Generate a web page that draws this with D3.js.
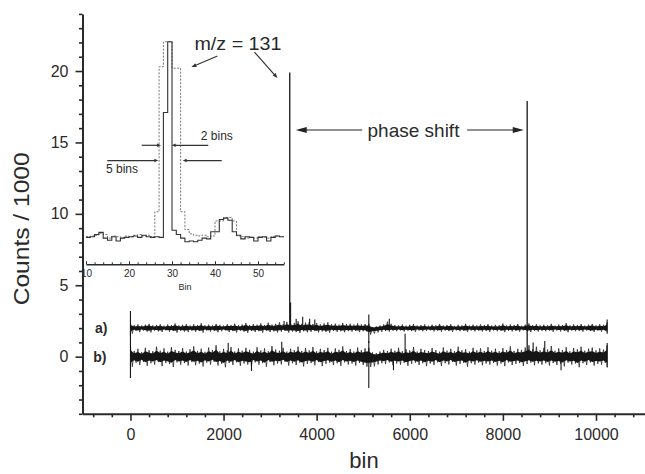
<!DOCTYPE html>
<html lang="en">
<head>
<meta charset="UTF-8">
<title>Phase shift of m/z 131</title>
<script src="https://d3js.org/d3.v7.min.js"></script>
<style>
  body { margin: 0; background: #fff; }
  text { font-family: Arial, "Liberation Sans", sans-serif; fill: #2a2a2a; }
  .axis path, .axis line { stroke: #2a2a2a; }
</style>
</head>
<body>
<div id="chart"></div>
<script>
// ---- main axes
const xTicks = [0, 2000, 4000, 6000, 8000, 10000];
const yTicks = [0, 5, 10, 15, 20];

// ---- noisy traces: offsets of a) and b), and the band read as a zig-zag
// (highs at bin i*80, lows at bin i*80+40)
const traceBase = { a: 2.0, b: 0.0 };
const binStep = 80;
const aHi = [2.35,2.20,2.26,2.18,2.24,2.30,2.19,2.22,2.27,2.17,2.25,2.21,2.32,2.19,2.23,2.28,
             2.18,2.26,2.22,2.34,2.20,2.24,2.19,2.29,2.23,2.18,2.27,2.22,2.31,2.20,2.25,2.36,
             2.21,2.28,2.24,2.33,2.22,2.38,2.25,2.30,2.40,2.27,2.44,2.32,2.36,2.48,2.30,2.38,
             2.42,2.29,2.35,2.26,2.33,2.40,2.27,2.31,2.24,2.36,2.28,2.30,2.25,2.33,2.26,2.29,
             2.30,2.08,2.12,2.18,2.26,2.45,2.30,2.22,2.19,2.25,2.17,2.23,2.28,2.18,2.21,2.26,
             2.17,2.24,2.20,2.29,2.18,2.22,2.27,2.16,2.23,2.20,2.30,2.18,2.24,2.19,2.26,2.21,
             2.28,2.18,2.23,2.20,2.32,2.19,2.25,2.22,2.29,2.17,2.24,2.33,2.21,2.27,2.19,2.24,
             2.20,2.30,2.18,2.25,2.22,2.34,2.19,2.26,2.21,2.28,2.18,2.24,2.29,2.20,2.27,2.23,2.40];
const aLo = [1.62,1.80,1.72,1.83,1.76,1.70,1.82,1.77,1.73,1.84,1.75,1.79,1.68,1.81,1.76,1.72,
             1.82,1.74,1.79,1.69,1.83,1.76,1.80,1.71,1.78,1.84,1.73,1.79,1.70,1.81,1.75,1.67,
             1.80,1.73,1.78,1.68,1.82,1.72,1.77,1.70,1.75,1.80,1.69,1.76,1.72,1.66,1.78,1.71,
             1.74,1.79,1.70,1.77,1.73,1.68,1.80,1.74,1.78,1.71,1.79,1.75,1.80,1.72,1.78,1.76,
             1.55,1.62,1.70,1.74,1.80,1.76,1.82,1.78,1.84,1.76,1.82,1.79,1.74,1.83,1.78,1.81,
             1.84,1.77,1.82,1.75,1.83,1.79,1.74,1.84,1.78,1.81,1.73,1.83,1.77,1.82,1.76,1.80,
             1.74,1.83,1.78,1.81,1.72,1.82,1.77,1.80,1.75,1.84,1.79,1.72,1.82,1.76,1.81,1.78,
             1.82,1.74,1.83,1.77,1.80,1.71,1.82,1.78,1.81,1.75,1.83,1.79,1.73,1.82,1.76,1.80,1.70];
const bHi = [0.75,0.40,0.55,0.32,0.62,0.45,0.38,0.70,0.42,0.58,0.35,0.66,0.48,0.40,0.60,0.36,
             0.52,0.72,0.40,0.56,0.34,0.64,0.46,0.80,0.38,0.55,0.44,0.68,0.36,0.58,0.42,0.62,
             0.48,0.35,0.66,0.44,0.58,0.38,0.74,0.50,0.42,0.62,0.36,0.56,0.46,0.70,0.40,0.60,
             0.44,0.68,0.38,0.55,0.46,0.62,0.35,0.58,0.48,0.72,0.40,0.54,0.36,0.64,0.45,0.58,
             0.62,0.30,0.25,0.36,0.48,0.40,0.56,0.42,0.62,0.38,0.52,0.44,0.68,0.36,0.55,0.47,
             0.40,0.60,0.46,0.35,0.64,0.42,0.55,0.38,0.70,0.45,0.52,0.36,0.62,0.44,0.58,0.40,
             0.66,0.42,0.56,0.38,0.60,0.46,0.72,0.40,0.55,0.48,0.64,0.80,0.52,0.70,0.45,0.62,
             0.50,0.75,0.42,0.58,0.46,0.66,0.38,0.60,0.52,0.70,0.42,0.56,0.64,0.44,0.58,0.50,0.80];
const bLo = [-0.70,-0.42,-0.58,-0.36,-0.64,-0.46,-0.55,-0.38,-0.66,-0.44,-0.52,-0.72,-0.40,-0.56,-0.45,-0.62,
             -0.38,-0.60,-0.48,-0.68,-0.42,-0.55,-0.36,-0.62,-0.50,-0.74,-0.44,-0.58,-0.40,-0.64,-0.48,-0.55,
             -0.66,-0.40,-0.56,-0.45,-0.70,-0.38,-0.60,-0.48,-0.54,-0.36,-0.62,-0.46,-0.58,-0.42,-0.68,-0.50,
             -0.45,-0.60,-0.38,-0.66,-0.50,-0.42,-0.58,-0.46,-0.64,-0.40,-0.55,-0.48,-0.62,-0.44,-0.58,-0.70,
             -0.72,-0.68,-0.55,-0.46,-0.52,-0.40,-0.60,-0.48,-0.56,-0.44,-0.64,-0.50,-0.42,-0.58,-0.46,-0.66,
             -0.48,-0.58,-0.40,-0.65,-0.46,-0.55,-0.38,-0.62,-0.50,-0.44,-0.70,-0.46,-0.56,-0.42,-0.60,-0.48,
             -0.55,-0.44,-0.62,-0.48,-0.66,-0.40,-0.58,-0.50,-0.45,-0.64,-0.52,-0.42,-0.60,-0.48,-0.56,-0.46,
             -0.62,-0.45,-0.58,-0.50,-0.68,-0.42,-0.55,-0.48,-0.74,-0.46,-0.58,-0.40,-0.62,-0.50,-0.56,-0.44,-0.70];

// single-bin spikes: [bin, top, bottom]
const aSpikes = [[0,3.2,1.5],[3300,2.5,2.0],[3422,19.9,1.9],[3440,3.8,1.9],[3560,2.65,1.9],
                 [3700,2.8,1.9],[3850,2.65,1.9],[3960,2.6,1.9],[5120,2.95,0.95],[5560,2.65,1.9],
                 [10240,2.6,1.6]];
const bSpikes = [[0,1.8,-1.5],[2100,0.95,0],[2600,0,-1.0],[3250,1.05,0],[5120,1.1,-2.2],
                 [5650,0,-0.95],[5900,1.6,0],[8522,17.9,-0.3],[8650,1.0,0],[8900,1.1,0],
                 [9250,0,-0.95],[10240,0.95,-0.75]];

// ---- inset: m/z 131 peak, counts per bin (bins 10..55)
const insetBins = d3.range(10, 56);
const insetTicks = [10, 20, 30, 40, 50];
const solidCounts = [8.35,8.40,8.55,8.70,8.30,8.15,8.40,8.10,8.30,8.35,8.40,8.45,8.35,8.50,8.40,8.35,
                     8.40,8.35,17.1,22.05,8.85,8.55,8.30,8.05,8.10,8.05,8.15,8.30,8.25,8.75,8.75,9.60,
                     9.70,9.55,8.75,8.50,8.25,8.40,8.35,8.10,8.35,8.40,8.10,8.35,8.45,8.40];
const dashedCounts = [8.40,8.45,8.50,8.65,8.55,8.30,8.45,8.40,8.35,8.45,8.40,8.50,8.55,8.45,8.50,8.40,
                      10.15,20.3,22.05,22.05,20.2,20.2,10.15,8.90,8.60,8.50,8.45,8.50,8.40,8.45,9.50,9.50,
                      9.75,9.75,9.50,8.45,8.40,8.30,8.35,8.30,8.40,8.35,8.30,8.40,8.45,8.40];

const W = 645, H = 474;
const svg = d3.select("#chart").append("svg")
    .attr("width", W).attr("height", H);

const x = d3.scaleLinear().domain([-1030, 11300]).range([82.5, 656.5]);
const y = d3.scaleLinear().domain([-4, 24]).range([413.8, 13.9]);

// ---- axes
const xMinor = d3.range(-800, 11300, 400).filter(v => v % 2000 !== 0);
const yMinor = d3.range(-4, 25, 1).filter(v => v % 5 !== 0);

const gx = svg.append("g").attr("class", "axis")
    .attr("transform", `translate(0,${y(-4)})`);
gx.call(d3.axisBottom(x).tickValues(xMinor).tickSize(3.5).tickFormat("").tickSizeOuter(0));
gx.call(g => g.select(".domain").remove());
const gx2 = svg.append("g").attr("class", "axis")
    .attr("transform", `translate(0,${y(-4)})`)
    .call(d3.axisBottom(x).tickValues(xTicks).tickFormat(d3.format("d"))
        .tickSize(7).tickPadding(8).tickSizeOuter(0));
gx2.select(".domain").attr("stroke-width", 2);
gx.selectAll("line").attr("stroke-width", 1.6);
gx2.selectAll("line").attr("stroke-width", 1.6);
gx2.selectAll("text").attr("font-size", 16).attr("fill", "#2a2a2a");

const gy = svg.append("g").attr("class", "axis")
    .attr("transform", `translate(${x(-1030)},0)`);
gy.call(d3.axisLeft(y).tickValues(yMinor).tickSize(3.5).tickFormat("").tickSizeOuter(0));
gy.call(g => g.select(".domain").remove());
const gy2 = svg.append("g").attr("class", "axis")
    .attr("transform", `translate(${x(-1030)},0)`)
    .call(d3.axisLeft(y).tickValues(yTicks).tickSize(7).tickPadding(7).tickSizeOuter(0));
gy2.select(".domain").attr("stroke-width", 2);
gy.selectAll("line").attr("stroke-width", 1.6);
gy2.selectAll("line").attr("stroke-width", 1.6);
gy2.selectAll("text").attr("font-size", 16).attr("fill", "#2a2a2a");

svg.append("text")
    .attr("transform", `translate(28.5,${(y(24) + y(-4)) / 2 + 15}) rotate(-90)`)
    .attr("text-anchor", "middle")
    .attr("font-size", 22)
    .attr("textLength", 153).attr("lengthAdjust", "spacingAndGlyphs")
    .text("Counts / 1000");

svg.append("text")
    .attr("x", 364).attr("y", 468)
    .attr("text-anchor", "middle")
    .attr("font-size", 22)
    .text("bin");

// ---- traces
function drawTrace(hi, lo, base, spikes) {
  const rows = hi.map((h, i) => ({ bin: Math.min(i * binStep, 10240), hi: h, lo: lo[i] }));
  // dense core of the band
  svg.append("path")
      .datum(rows)
      .attr("fill", "#161616")
      .attr("d", d3.area().x(d => x(d.bin))
          .y0(d => y(base + (d.lo - base) * 0.6))
          .y1(d => y(base + (d.hi - base) * 0.6)));
  // fuzzy outer edge
  const pts = [];
  rows.forEach(r => {
    pts.push([r.bin, r.hi]);
    pts.push([Math.min(r.bin + binStep / 2, 10240), r.lo]);
  });
  svg.append("path")
      .datum(pts)
      .attr("fill", "none")
      .attr("stroke", "#161616")
      .attr("stroke-width", 0.7)
      .attr("d", d3.line().x(d => x(d[0])).y(d => y(d[1])));
  svg.append("g").selectAll("line")
      .data(spikes)
      .join("line")
      .attr("x1", d => x(d[0])).attr("x2", d => x(d[0]))
      .attr("y1", d => y(d[1])).attr("y2", d => y(d[2]))
      .attr("stroke", "#161616")
      .attr("stroke-width", d => d[1] > 10 ? 1.3 : 1.1);
}
drawTrace(aHi, aLo, traceBase.a, aSpikes);
drawTrace(bHi, bLo, traceBase.b, bSpikes);

svg.append("text").attr("x", x(-760)).attr("y", y(2) + 5)
    .attr("font-size", 14).attr("font-weight", "bold").text("a)");
svg.append("text").attr("x", x(-800)).attr("y", y(0) + 5)
    .attr("font-size", 14).attr("font-weight", "bold").text("b)");

// ---- arrows
function arrow(x1, y1, x2, y2, len, wid, col) {
  const a = Math.atan2(y2 - y1, x2 - x1);
  svg.append("line")
      .attr("x1", x1).attr("y1", y1)
      .attr("x2", x2 - Math.cos(a) * len * 0.8).attr("y2", y2 - Math.sin(a) * len * 0.8)
      .attr("stroke", col).attr("stroke-width", 1.2);
  const bx = x2 - Math.cos(a) * len, by = y2 - Math.sin(a) * len;
  const px = -Math.sin(a) * wid / 2, py = Math.cos(a) * wid / 2;
  svg.append("path")
      .attr("d", `M${x2},${y2}L${bx + px},${by + py}L${bx - px},${by - py}Z`)
      .attr("fill", col);
}

// phase shift between the two peaks
const shiftY = y(15.87);
arrow(x(4977), shiftY, x(3551), shiftY, 11, 6, "#222");
arrow(x(7233), shiftY, x(8449), shiftY, 11, 6, "#222");
svg.append("text").attr("x", x(6080)).attr("y", shiftY + 6.5)
    .attr("text-anchor", "middle").attr("font-size", 19).text("phase shift");

// m/z label
svg.append("text").attr("x", x(1375)).attr("y", y(21.44))
    .attr("font-size", 18).attr("textLength", 87).attr("lengthAdjust", "spacingAndGlyphs")
    .text("m/z = 131");
arrow(x(1869), y(21.05), x(1310), y(20.28), 5, 4, "#333");
arrow(x(2664), y(21.33), x(3158), y(19.51), 5, 4, "#333");

// ---- inset
const xi = d3.scaleLinear().domain([10, 56]).range([86, 283.8]);
const yi = y; // inset shares the count scale
const insetAxisY = yi(6.47);

const ga = svg.append("g").attr("class", "axis")
    .attr("transform", `translate(0,${insetAxisY})`);
ga.call(d3.axisBottom(xi).tickValues(d3.range(12, 57, 2).filter(v => v % 10 !== 0))
    .tickSize(-2).tickFormat("").tickSizeOuter(0));
ga.call(g => g.select(".domain").remove());
const ga2 = svg.append("g").attr("class", "axis")
    .attr("transform", `translate(0,${insetAxisY})`)
    .call(d3.axisBottom(xi).tickValues(insetTicks).tickSize(-3).tickPadding(6).tickSizeOuter(0));
ga2.select(".domain").attr("stroke", "#555").attr("stroke-width", 1.3);
ga.selectAll("line").attr("stroke", "#555");
ga2.selectAll("line").attr("stroke", "#555");
ga2.selectAll("text").attr("font-size", 10).attr("fill", "#555");
svg.append("text").attr("x", xi(33)).attr("y", insetAxisY + 26)
    .attr("text-anchor", "middle").attr("font-size", 9).attr("fill", "#555").text("Bin");

function stepRows(vals) {
  const rows = insetBins.map((b, i) => ({ bin: b, v: vals[i] }));
  rows.push({ bin: 56, v: vals[vals.length - 1] });
  return rows;
}
const stepLine = d3.line().x(d => xi(d.bin)).y(d => yi(d.v)).curve(d3.curveStepAfter);
svg.append("path").datum(stepRows(dashedCounts))
    .attr("fill", "none").attr("stroke", "#777").attr("stroke-width", 1)
    .attr("stroke-dasharray", "2,1.5").attr("d", stepLine);
svg.append("path").datum(stepRows(solidCounts))
    .attr("fill", "none").attr("stroke", "#333").attr("stroke-width", 1.1).attr("d", stepLine);

// FWHM markers
arrow(xi(22.95), yi(14.8), xi(27.44), yi(14.8), 4, 3.5, "#333");
arrow(xi(38.44), yi(14.8), xi(29.93), yi(14.8), 4, 3.5, "#333");
arrow(xi(14.95), yi(13.73), xi(26.81), yi(13.73), 4, 3.5, "#333");
arrow(xi(41.56), yi(13.73), xi(32.49), yi(13.73), 4, 3.5, "#333");
svg.append("text").attr("x", xi(36.7)).attr("y", yi(15.17))
    .attr("font-size", 12).attr("fill", "#333").text("2 bins");
svg.append("text").attr("x", xi(14.65)).attr("y", yi(12.86))
    .attr("font-size", 12).attr("fill", "#333").text("5 bins");
</script>
</body>
</html>
